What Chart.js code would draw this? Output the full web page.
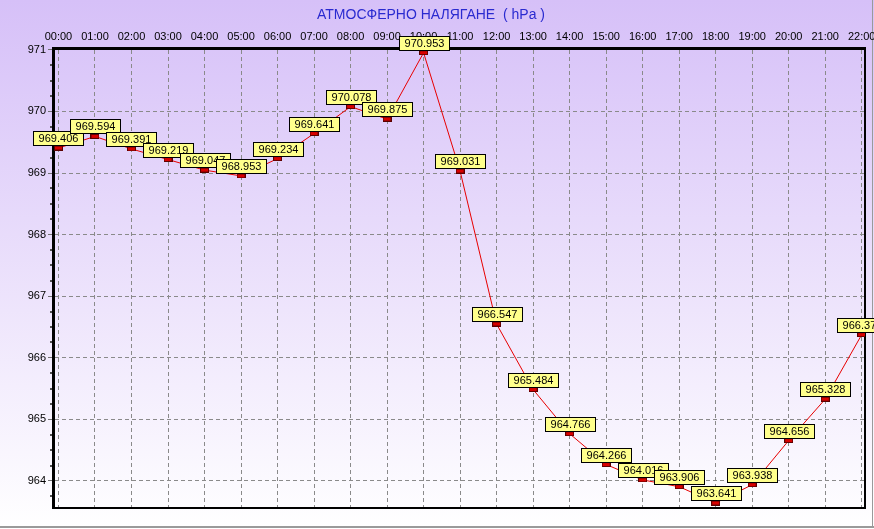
<!DOCTYPE html>
<html>
<head>
<meta charset="utf-8">
<script src="https://cdn.jsdelivr.net/npm/chart.js"></script>
<style>
  body { margin: 0; }
  canvas { display: block; }
</style>
</head>
<body>
<canvas id="myChart" width="874" height="529"></canvas>
<script>
  const chartTitle = "АТМОСФЕРНО НАЛЯГАНЕ  ( hPa )";
  const hours = ["00:00", "01:00", "02:00", "03:00", "04:00", "05:00", "06:00", "07:00",
    "08:00", "09:00", "10:00", "11:00", "12:00", "13:00", "14:00", "15:00", "16:00",
    "17:00", "18:00", "19:00", "20:00", "21:00", "22:00"];
  const pressure = [969.406, 969.594, 969.391, 969.219, 969.047, 968.953, 969.234, 969.641,
    970.078, 969.875, 970.953, 969.031, 966.547, 965.484, 964.766, 964.266, 964.016,
    963.906, 963.641, 963.938, 964.656, 965.328, 966.375];
  const yTicks = [964, 965, 966, 967, 968, 969, 970, 971];

  const ctx = document.getElementById("myChart");

  const marker = document.createElement("canvas");
  marker.width = 9;
  marker.height = 5;
  const mctx = marker.getContext("2d");
  mctx.fillStyle = "#5a0000";
  mctx.fillRect(0, 0, 9, 5);
  mctx.fillStyle = "#d80000";
  mctx.fillRect(1, 1, 7, 3);

  const backdrop = {
    id: "backdrop",
    beforeDraw(chart) {
      const c = chart.ctx;
      const g = c.createLinearGradient(0, 0, 0, chart.height);
      g.addColorStop(0, "#d6c0f8");
      g.addColorStop(1, "#ffffff");
      c.save();
      c.fillStyle = g;
      c.fillRect(0, 0, chart.width, chart.height);
      c.fillStyle = "#2a2ad0";
      c.font = "14px 'Liberation Sans', Arial, sans-serif";
      c.textAlign = "center";
      c.textBaseline = "middle";
      c.fillText(chartTitle, 431, 15);
      c.fillStyle = "#9a9a9a";
      c.fillRect(0, 526, chart.width, 2);
      c.fillRect(872, 0, 1, 528);
      c.restore();
    },
    beforeDatasetsDraw(chart) {
      const c = chart.ctx;
      const a = chart.chartArea;
      const y = chart.scales.y;
      c.save();
      c.strokeStyle = "#000000";
      c.lineWidth = 2;
      c.beginPath();
      c.moveTo(a.left, a.bottom);
      c.lineTo(a.right, a.bottom);
      c.lineTo(a.right, a.top);
      c.stroke();
      c.fillStyle = "#505050";
      for (let v = yTicks[0] - 0.25; v < yTicks[yTicks.length - 1]; v += 0.25) {
        if (Math.abs(v - Math.round(v)) < 0.01) continue;
        const py = Math.round(y.getPixelForValue(v));
        c.fillRect(50, py - 1, 2, 2);
      }
      c.restore();
    },
    afterDatasetsDraw(chart) {
      const c = chart.ctx;
      const meta = chart.getDatasetMeta(0);
      c.save();
      c.font = "11px 'Liberation Sans', Arial, sans-serif";
      c.textAlign = "center";
      c.textBaseline = "middle";
      meta.data.forEach((pt, i) => {
        const text = pressure[i].toFixed(3);
        const w = 50, h = 14;
        const bx = Math.round(pt.x - w / 2) + 0.5;
        const by = Math.round(pt.y - 3 - h) + 0.5;
        c.fillStyle = "#ffff8c";
        c.fillRect(bx, by, w, h);
        c.strokeStyle = "#000000";
        c.lineWidth = 1;
        c.strokeRect(bx, by, w, h);
        c.fillStyle = "#000000";
        c.fillText(text, bx + w / 2, by + h / 2 + 0.5);
      });
      c.restore();
    }
  };

  new Chart(ctx, {
    type: "line",
    data: {
      datasets: [
        {
          data: pressure.map((v, i) => ({ x: i, y: v })),
          borderColor: "#e80000",
          borderWidth: 1,
          tension: 0,
          pointStyle: marker,
          pointRadius: 4,
        },
      ],
    },
    options: {
      responsive: false,
      animation: false,
      layout: { padding: { left: 0, top: 0, right: 9, bottom: 21 } },
      plugins: {
        legend: { display: false },
        tooltip: { enabled: false },
      },
      scales: {
        x: {
          type: "linear",
          position: "top",
          min: -0.15,
          max: 22.09,
          afterFit(scale) {
            scale.height = 48;
            scale.paddingLeft = 0;
            scale.paddingRight = 0;
          },
          afterBuildTicks(scale) {
            scale.ticks = hours.map((h, i) => ({ value: i }));
          },
          ticks: {
            autoSkip: false,
            maxRotation: 0,
            padding: 4,
            color: "#000000",
            font: { family: "'Liberation Sans', Arial, sans-serif", size: 11 },
            callback: (v) => hours[v],
          },
          grid: { color: "#8a8a8a", drawTicks: false },
          border: { display: true, color: "#000000", width: 3, dash: [4, 3] },
        },
        y: {
          min: 963.56,
          max: 971.03,
          afterFit(scale) {
            scale.width = 53;
            scale.paddingTop = 0;
            scale.paddingBottom = 0;
          },
          afterBuildTicks(scale) {
            scale.ticks = yTicks.map((v) => ({ value: v }));
          },
          ticks: {
            padding: 2,
            color: "#000000",
            font: { family: "'Liberation Sans', Arial, sans-serif", size: 11 },
            callback: (v) => String(v),
          },
          grid: { color: "#8a8a8a", tickColor: "#707070", tickLength: 5, tickBorderDash: [] },
          border: { display: true, color: "#000000", width: 3, dash: [4, 3] },
        },
      },
    },
    plugins: [backdrop],
  });
</script>
</body>
</html>
